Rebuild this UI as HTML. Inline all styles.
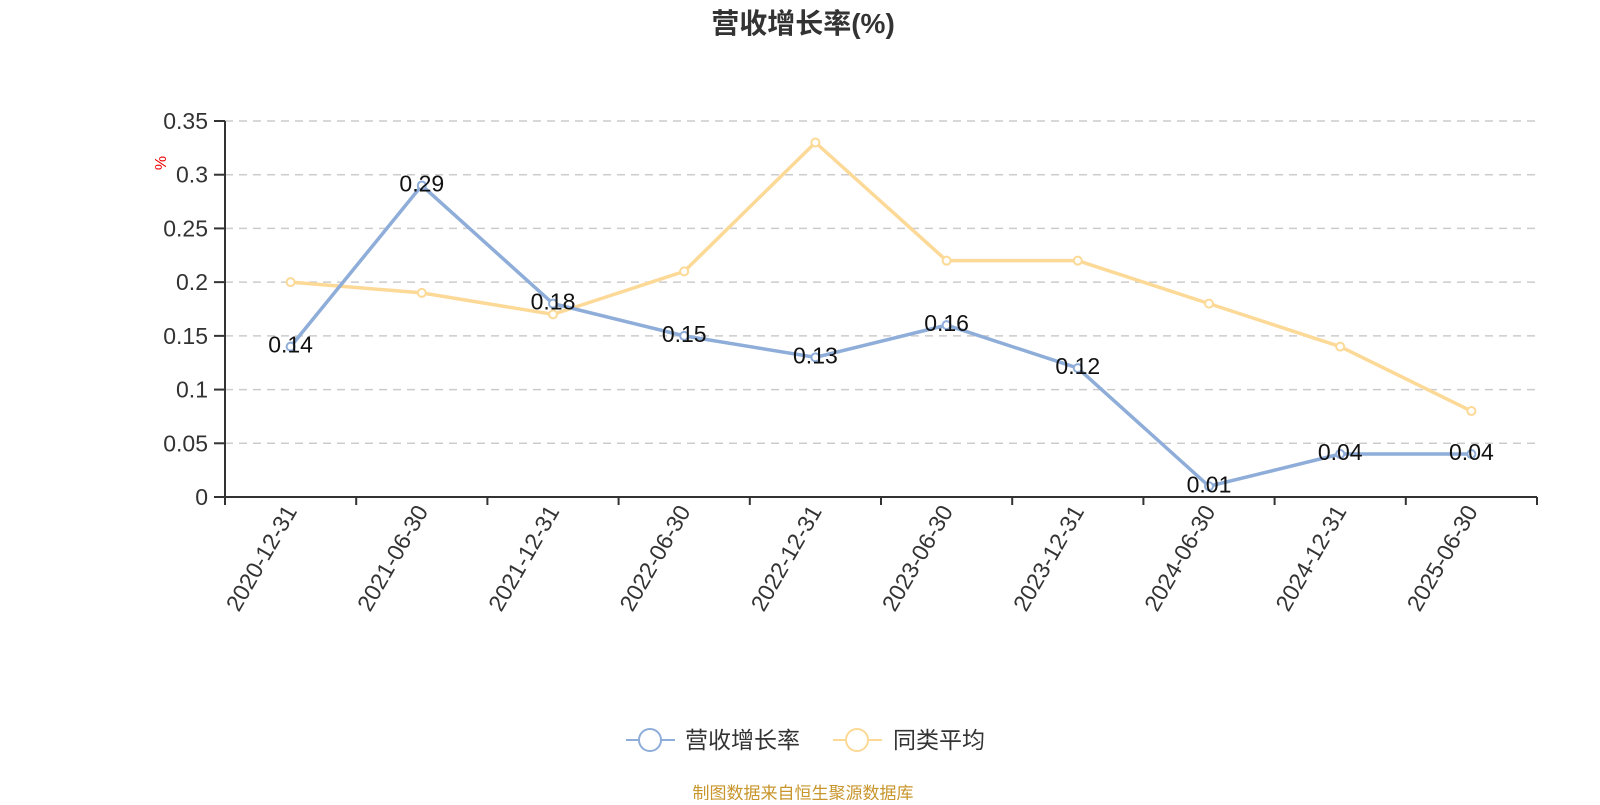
<!DOCTYPE html>
<html><head><meta charset="utf-8"><style>
body{margin:0;background:#fff;width:1600px;height:800px;overflow:hidden;font-family:"Liberation Sans","Noto Sans CJK SC",sans-serif}
</style></head><body>
<svg id="chart" width="1600" height="800" xmlns="http://www.w3.org/2000/svg" font-family="Liberation Sans, Noto Sans CJK SC, sans-serif">
<text x="803" y="33" text-anchor="middle" font-size="28" font-weight="bold" fill="#333">营收增长率(%)</text>
<text transform="translate(166,163) rotate(-90)" text-anchor="middle" font-size="16" fill="#e00">%</text>
<g id="grid"></g><g id="axes"></g><g id="series"></g>
<g>
<g>
<line x1="626" y1="740" x2="675" y2="740" stroke="#8eadd9" stroke-width="2"/><circle cx="650" cy="740" r="11" fill="#fff" stroke="#8eadd9" stroke-width="2"/>
<text x="685" y="748" font-size="23" fill="#333">营收增长率</text></g>
<g>
<line x1="833" y1="740" x2="882" y2="740" stroke="#fcd996" stroke-width="2"/><circle cx="857" cy="740" r="11" fill="#fff" stroke="#fcd996" stroke-width="2"/>
<text x="893" y="748" font-size="23" fill="#333">同类平均</text></g>
</g>
<text x="803" y="799" text-anchor="middle" font-size="17" fill="#c8962c">制图数据来自恒生聚源数据库</text>
</svg>
<script>
const categories=["2020-12-31","2021-06-30","2021-12-31","2022-06-30","2022-12-31","2023-06-30","2023-12-31","2024-06-30","2024-12-31","2025-06-30"];
const growthValues=[0.14,0.29,0.18,0.15,0.13,0.16,0.12,0.01,0.04,0.04];
const peerAvgValues=[0.20,0.19,0.17,0.21,0.33,0.22,0.22,0.18,0.14,0.08];
const yTicks=[0,0.05,0.1,0.15,0.2,0.25,0.3,0.35];
const yTickLabels=["0","0.05","0.1","0.15","0.2","0.25","0.3","0.35"];
const NS="http://www.w3.org/2000/svg";
const X0=225,X1=1537,Y0=497,Y1=121,YMAX=0.35;
const band=(X1-X0)/categories.length;
function xPos(i){return X0+band*(i+0.5);}
function yPos(v){return Y0-(v/YMAX)*(Y0-Y1);}
function mk(tag,attrs,parent){const e=document.createElementNS(NS,tag);for(const k in attrs)e.setAttribute(k,attrs[k]);parent.appendChild(e);return e;}
const grid=document.getElementById('grid'),axes=document.getElementById('axes'),series=document.getElementById('series');
yTicks.forEach((v,i)=>{
  const y=yPos(v);
  if(v>0){const g=mk('line',{x1:X0,x2:X1,y1:y,y2:y,stroke:'#ccc','stroke-width':1.5,'stroke-dasharray':'8,6'},grid);
  
  }
  const t=mk('line',{x1:X0-11,x2:X0,y1:y,y2:y,stroke:'#333','stroke-width':2},axes);
  
  
  const l=mk('text',{x:X0-17,y:y+8,'text-anchor':'end','font-size':23,fill:'#333'},axes);
  l.textContent=yTickLabels[i];
  
  
});
const ya=mk('line',{x1:X0,x2:X0,y1:Y1,y2:Y0,stroke:'#333','stroke-width':2},axes);


const xa=mk('line',{x1:X0,x2:X1,y1:Y0,y2:Y0,stroke:'#333','stroke-width':2},axes);


for(let i=0;i<=categories.length;i++){
  const x=X0+band*i;
  const t=mk('line',{x1:x,x2:x,y1:Y0,y2:Y0+8,stroke:'#333','stroke-width':2},axes);
  
  
}
categories.forEach((c,i)=>{
  const x=xPos(i);
  const l=mk('text',{transform:`translate(${x+7},${Y0+14}) rotate(-60)`,'text-anchor':'end','font-size':23,fill:'#333'},axes);
  l.textContent=c;
  
  
});
function drawSeries(vals,color,name,labels){
  const pts=vals.map((v,i)=>xPos(i)+','+yPos(v)).join(' ');
  const pl=mk('polyline',{points:pts,fill:'none',stroke:color,'stroke-width':3.5},series);
  
  
  vals.forEach((v,i)=>{
    const c=mk('circle',{cx:xPos(i),cy:yPos(v),r:4,fill:'#fff',stroke:color,'stroke-width':2},series);
    
    
    if(labels){
      const t=mk('text',{x:xPos(i),y:yPos(v)+6,'text-anchor':'middle','font-size':23,fill:'#111'},series);
      t.textContent=String(v);
      
      
    }
  });
}
drawSeries(peerAvgValues,'#fcd996','peer-average',false);
drawSeries(growthValues,'#8eadd9','revenue-growth',true);
</script>
</body></html>
